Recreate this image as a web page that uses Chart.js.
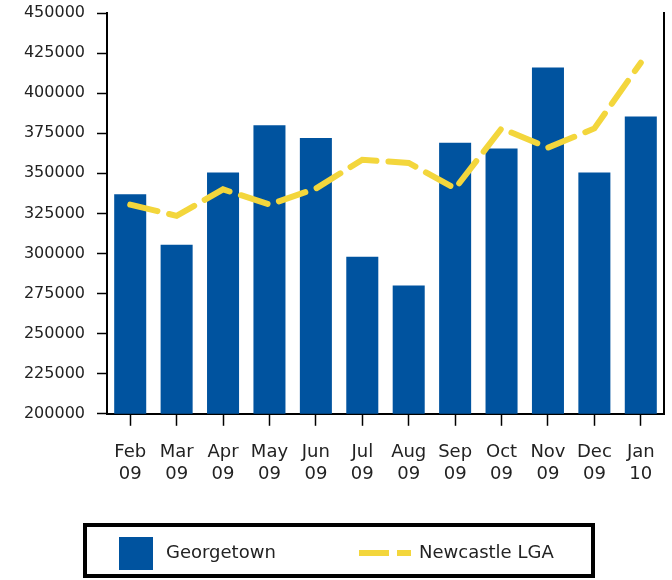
<!DOCTYPE html>
<html>
<head>
<meta charset="utf-8">
<script src="https://cdn.jsdelivr.net/npm/chart.js@4.4.1/dist/chart.umd.min.js"></script>
<style>
  html, body { margin: 0; padding: 0; background: #fff; }
  #wrap { width: 672px; height: 580px; }
</style>
</head>
<body>
<div id="wrap"><canvas id="priceChart" width="672" height="580"></canvas></div>
<script>
// Median price data
const months = ['Feb', 'Mar', 'Apr', 'May', 'Jun', 'Jul', 'Aug', 'Sep', 'Oct', 'Nov', 'Dec', 'Jan'];
const years = ['09', '09', '09', '09', '09', '09', '09', '09', '09', '09', '09', '10'];
const georgetown = [337000, 305500, 350500, 380000, 372000, 298000, 280000, 369000, 365500, 416000, 350500, 385500];
const newcastle = [330500, 323500, 340000, 330500, 340500, 358500, 356500, 340500, 378000, 366000, 378000, 419000];
const yTicks = { min: 200000, max: 450000, step: 25000 };

const blue = '#00539f';
const yellow = '#f3d63c';
const textColor = '#222';
const fontFamily = '"DejaVu Sans", sans-serif';

// legend drawn as a boxed strip under the axis
const boxLegend = {
  id: 'boxLegend',
  afterDraw(chart) {
    const ctx = chart.ctx;
    const bar = chart.data.datasets.find(d => d.type === 'bar');
    const line = chart.data.datasets.find(d => d.type === 'line');
    ctx.save();
    ctx.strokeStyle = '#000';
    ctx.lineWidth = 4;
    ctx.strokeRect(85, 525, 508, 51);

    ctx.fillStyle = bar.backgroundColor;
    ctx.fillRect(119, 537, 34, 33);

    ctx.font = '18px ' + fontFamily;
    ctx.fillStyle = textColor;
    ctx.textBaseline = 'middle';
    ctx.fillText(bar.label, 166, 553);

    ctx.strokeStyle = line.borderColor;
    ctx.lineWidth = 6;
    ctx.setLineDash([30, 8]);
    ctx.beginPath();
    ctx.moveTo(359, 553);
    ctx.lineTo(411, 553);
    ctx.stroke();
    ctx.setLineDash([]);

    ctx.fillText(line.label, 419, 553);
    ctx.restore();
  }
};

const chart = new Chart(document.getElementById('priceChart').getContext('2d'), {
  data: {
    labels: months.map((m, i) => [m, years[i]]),
    datasets: [
      {
        type: 'line',
        label: 'Newcastle LGA',
        data: newcastle,
        borderColor: yellow,
        borderWidth: 6,
        borderDash: [28, 12],
        borderCapStyle: 'round',
        pointRadius: 0,
        tension: 0,
        order: 1
      },
      {
        type: 'bar',
        label: 'Georgetown',
        data: georgetown,
        backgroundColor: blue,
        barPercentage: 0.69,
        categoryPercentage: 1,
        order: 2
      }
    ]
  },
  options: {
    responsive: false,
    animation: false,
    layout: { padding: { left: 10, right: 8, top: 13, bottom: 79 } },
    plugins: {
      legend: { display: false },
      tooltip: { enabled: false }
    },
    scales: {
      x: {
        offset: true,
        grid: { display: true, offset: false, drawOnChartArea: false, tickLength: 12, tickColor: '#000', tickWidth: 1.5 },
        border: { display: true, color: '#000', width: 2 },
        ticks: {
          color: textColor,
          font: { family: fontFamily, size: 18 },
          padding: 16,
          maxRotation: 0,
          autoSkip: false
        },
        afterFit: s => { s.paddingLeft = 0; s.paddingRight = 0; }
      },
      y: {
        min: yTicks.min,
        max: yTicks.max,
        grid: { drawOnChartArea: false, tickLength: 10, tickColor: '#000', tickWidth: 1.5 },
        border: { display: true, color: '#000', width: 2 },
        ticks: {
          stepSize: yTicks.step,
          color: textColor,
          font: { family: fontFamily, size: 16 },
          padding: 12,
          callback: v => String(v)
        },
        afterFit: s => { s.width = 97; s.paddingTop = 0; s.paddingBottom = 0; }
      },
      y2: {
        position: 'right',
        grid: { display: false },
        border: { display: true, color: '#000', width: 2 },
        ticks: { display: false },
        afterFit: s => { s.width = 0; s.paddingTop = 0; s.paddingBottom = 0; }
      }
    }
  },
  plugins: [boxLegend]
});
</script>
</body>
</html>
